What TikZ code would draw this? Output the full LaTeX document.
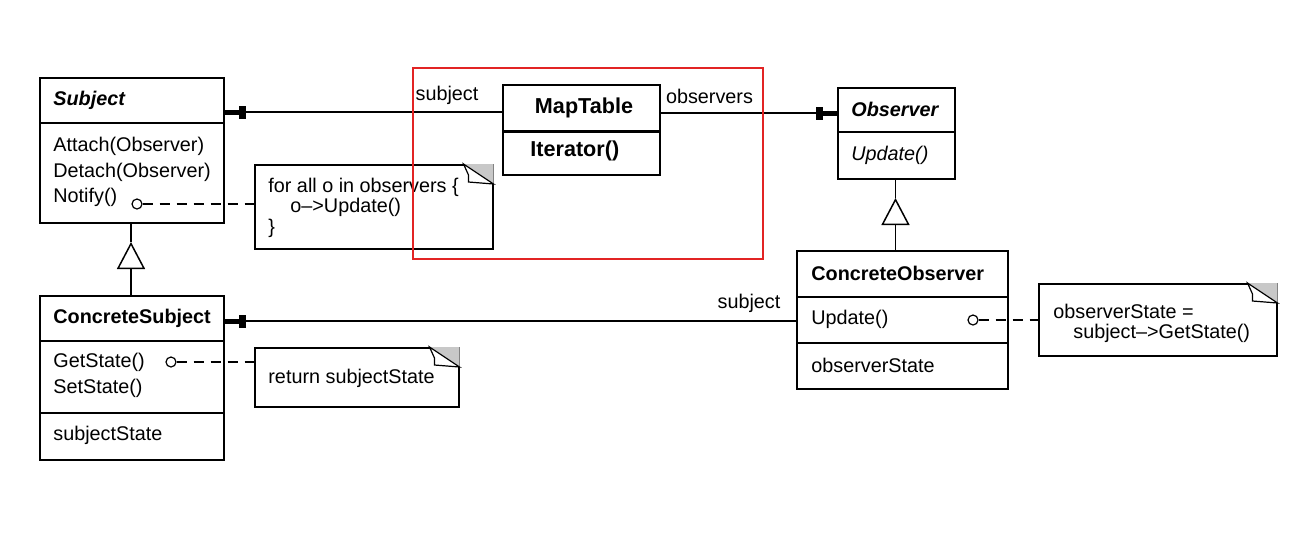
\documentclass[tikz,border=0pt]{standalone}
\usepackage{fontspec}
\setmainfont{Liberation Sans}
\usetikzlibrary{arrows.meta}
\definecolor{hilite}{RGB}{226,36,36}
\definecolor{earfill}{RGB}{200,200,200}
\newcommand{\umlfont}{\fontsize{9.9}{12.75}\selectfont}
\newcommand{\notefont}{\fontsize{9.9}{10.3}\selectfont}
\newcommand{\dogear}[1]{%
  \fill[earfill] ([xshift=-15pt]#1.north east) -- (#1.north east) -- ([yshift=-10pt]#1.north east) -- cycle;
  \draw[line width=0.6pt, fill=white] ([xshift=-15pt]#1.north east) -- ([xshift=-12.5pt,yshift=-5.5pt]#1.north east)
    -- ([xshift=-12.5pt,yshift=-9pt]#1.north east) -- ([yshift=-10pt]#1.north east) -- cycle;}
\tikzset{
  cls/.style={draw, line width=0.75pt, anchor=north west, inner sep=0pt},
  note/.style={draw, line width=0.75pt, anchor=north west, inner sep=0pt, fill=white},
  txt/.style={anchor=west, inner sep=0pt, align=left, font=\umlfont},
  ntxt/.style={anchor=west, inner sep=0pt, align=left, font=\notefont},
  hook/.style={circle, draw, line width=0.6pt, fill=white, inner sep=0pt, minimum size=5pt},
  link/.style={line width=0.75pt, dash pattern=on 5pt off 3.5pt},
  assoc/.style={line width=0.75pt, -{Rectangle[length=3.5pt,width=6.5pt]Rectangle[length=7pt,width=2.5pt]}},
  gen/.style={line width=0.75pt, -{Triangle[length=13.5pt,width=14pt,fill=white]}},
}
\begin{document}
\begin{tikzpicture}[x=0.5pt, y=-0.5pt]
\useasboundingbox (0,0) rectangle (1307,543);
% Subject
\node[cls, minimum width=92pt, minimum height=72.5pt] (subj) at (39,77) {};
\draw[line width=0.75pt] (subj.west |- 0,123) -- (subj.east |- 0,123);
\node[txt, font=\umlfont\bfseries\itshape] (subjname) at (53,100) {Subject};
\node[txt] (subjops) at (53,172) {Attach(Observer)\\Detach(Observer)\\Notify()};
\node[hook] (ntf) at (137,204) {};
% ConcreteSubject
\node[cls, minimum width=92pt, minimum height=82pt] (csubj) at (39,295) {};
\draw[line width=0.75pt] (csubj.west |- 0,341) -- (csubj.east |- 0,341);
\draw[line width=0.75pt] (csubj.west |- 0,413) -- (csubj.east |- 0,413);
\node[txt, font=\umlfont\bfseries] (csubjname) at (53,318) {ConcreteSubject};
\node[txt] (csubjops) at (53,375.5) {GetState()\\SetState()};
\node[txt] (csubjstate) at (53,435) {subjectState};
\node[hook] (gst) at (171,362) {};
% MapTable
\node[cls, minimum width=78.5pt, minimum height=45pt] (mt) at (502,84) {};
\draw[line width=1.5pt] (mt.west |- 0,131) -- (mt.east |- 0,131);
\node[inner sep=0pt, font=\fontsize{10.8}{13}\selectfont\bfseries] (mtname) at (584,108) {MapTable};
\node[txt, font=\fontsize{10.8}{13}\selectfont\bfseries] (mtops) at (530,151) {Iterator()};
% Observer
\node[cls, minimum width=58.5pt, minimum height=45.5pt] (obs) at (837,87) {};
\draw[line width=0.75pt] (obs.west |- 0,132) -- (obs.east |- 0,132);
\node[txt, font=\umlfont\bfseries\itshape] (obsname) at (851,109) {Observer};
\node[txt, font=\umlfont\itshape] (obsops) at (851,155) {Update()};
% ConcreteObserver
\node[cls, minimum width=105.5pt, minimum height=69pt] (cobs) at (796,250) {};
\draw[line width=0.75pt] (cobs.west |- 0,297) -- (cobs.east |- 0,297);
\draw[line width=0.75pt] (cobs.west |- 0,343) -- (cobs.east |- 0,343);
\node[txt, font=\umlfont\bfseries] (cobsname) at (811,273) {ConcreteObserver};
\node[txt] (cobsops) at (811,319) {Update()};
\node[txt] (cobsstate) at (811,365) {observerState};
\node[hook] (upd) at (973,320) {};
% notes
\node[note, minimum width=119pt, minimum height=42pt] (n1) at (254,164) {};
\node[ntxt] (n1text) at (268,207.5) {for all o in observers \{\\\hspace{11pt}o--{}>Update()\\\}};
\dogear{n1}
\node[note, minimum width=102pt, minimum height=29.5pt] (n2) at (254,347) {};
\node[ntxt] (n2text) at (268,378) {return subjectState};
\dogear{n2}
\node[note, minimum width=119pt, minimum height=36pt] (n3) at (1038,283) {};
\node[ntxt] (n3text) at (1053,323.5) {observerState =\\\hspace{10pt}subject--{}>GetState()};
\dogear{n3}
% links to notes
\draw[link] (ntf) -- (ntf -| n1.west);
\draw[link] (gst) -- (gst -| n2.west);
\draw[link] (upd) -- (upd -| n3.west);
% associations
\draw[assoc] (mt.west |- 0,112) -- (subj.east |- 0,112);
\draw[assoc] (mt.east |- 0,113) -- (obs.west |- 0,113);
\draw[assoc] (cobs.west |- 0,321) -- (csubj.east |- 0,321);
\node[font=\umlfont, inner sep=0pt] (lsubj) at (447,95) {subject};
\node[font=\umlfont, inner sep=0pt] (lobs) at (709.5,96) {observers};
\node[font=\umlfont, inner sep=0pt] (lcsubj) at (749,303) {subject};
% inheritance
\coordinate (g1) at (131,242);
\draw[gen] (csubj.north -| g1) -- (g1);
\draw[line width=0.75pt] (g1) -- (subj.south -| g1);
\coordinate (g2) at (895.5,198);
\draw[gen] (cobs.north -| g2) -- (g2);
\draw[line width=0.75pt] (g2) -- (obs.south -| g2);
% highlight
\node[draw=hilite, line width=0.75pt, anchor=north west, inner sep=0pt, minimum width=175pt, minimum height=95.5pt] (zone) at (412,67) {};
\end{tikzpicture}
\end{document}
